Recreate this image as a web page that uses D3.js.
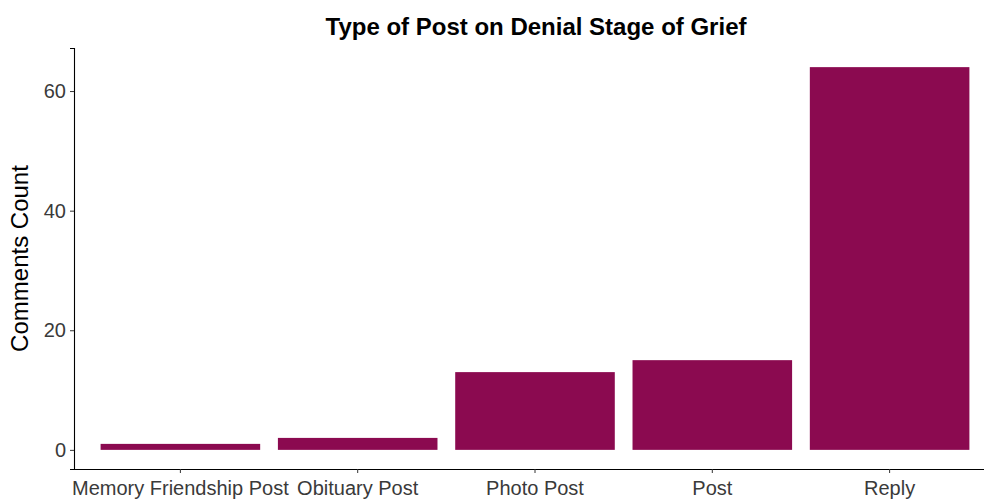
<!DOCTYPE html>
<html>
<head>
<meta charset="utf-8">
<script src="https://cdn.jsdelivr.net/npm/d3@7"></script>
<style>
  body { margin: 0; background: #fff; }
  text { font-family: "Liberation Sans", Arial, sans-serif; }
</style>
</head>
<body>
<div id="chart"></div>
<script>
const width = 984;
const height = 499;

// Data
const categories = ["Memory Friendship Post", "Obituary Post", "Photo Post", "Post", "Reply"];
const counts = [1, 2, 13, 15, 64];
const yTicks = [0, 20, 40, 60];

const svg = d3.select("#chart").append("svg")
  .attr("width", width)
  .attr("height", height);

// panel runs past the right edge, as in the reference
const x = d3.scaleBand()
  .domain(categories)
  .range([74, 996])
  .paddingInner(0.1)
  .paddingOuter(0.15);

const y = d3.scaleLinear()
  .domain([-3.2, 67.2])
  .range([469, 48]);

// bars
svg.append("g")
  .selectAll("rect")
  .data(categories)
  .join("rect")
  .attr("x", d => x(d))
  .attr("width", x.bandwidth())
  .attr("y", (d, i) => y(counts[i]))
  .attr("height", (d, i) => y(0) - y(counts[i]))
  .attr("fill", "#8B0A50");

// y axis
const yAxis = svg.append("g")
  .attr("transform", "translate(74,0)")
  .call(d3.axisLeft(y).tickValues(yTicks).tickSize(4).tickPadding(4));
yAxis.select(".domain").attr("stroke", "#000").attr("stroke-width", 1.1);
yAxis.selectAll(".tick line").attr("stroke", "#333");
yAxis.selectAll(".tick text")
  .attr("fill", "#3a3a3a")
  .style("font-size", "20px");

// x axis
const xAxis = svg.append("g")
  .attr("transform", "translate(0,469)")
  .call(d3.axisBottom(x).tickSize(4).tickPadding(8).tickSizeOuter(0));
xAxis.select(".domain").attr("stroke", "#000").attr("stroke-width", 1.1);
xAxis.selectAll(".tick line").attr("stroke", "#333");
xAxis.selectAll(".tick text")
  .attr("fill", "#3a3a3a")
  .style("font-size", "20px");

// axis title
svg.append("text")
  .attr("transform", "translate(28," + ((48 + 469) / 2) + ") rotate(-90)")
  .attr("text-anchor", "middle")
  .style("font-size", "24px")
  .attr("fill", "#000")
  .text("Comments Count");

// title
svg.append("text")
  .attr("x", 536)
  .attr("y", 35)
  .attr("text-anchor", "middle")
  .style("font-size", "24px")
  .style("font-weight", "bold")
  .attr("fill", "#000")
  .text("Type of Post on Denial Stage of Grief");
</script>
</body>
</html>
